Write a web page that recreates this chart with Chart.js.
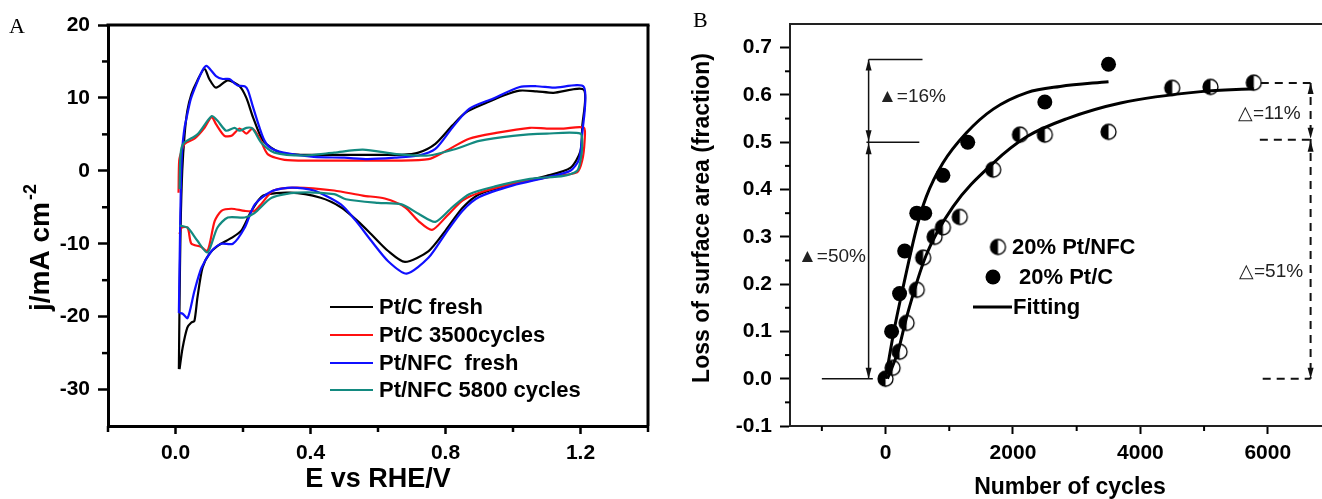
<!DOCTYPE html>
<html>
<head>
<meta charset="utf-8">
<script src="https://cdn.jsdelivr.net/npm/chart.js@4.4.1/dist/chart.umd.min.js"></script>
<style>
  html, body { margin: 0; padding: 0; background: #fff; width: 1322px; height: 499px; overflow: hidden; }
  #boxA { position: absolute; left: 0; top: 0; width: 665px; height: 499px; }
  #boxB { position: absolute; left: 680px; top: 0; width: 660px; height: 499px; }
</style>
</head>
<body>
<div id="boxA"><canvas id="cvChart"></canvas></div>
<div id="boxB"><canvas id="lossChart"></canvas></div>
<script>
// ---- panel A: cyclic voltammograms, points are [E vs RHE (V), j (mA cm-2)]
const ptcFreshAnodic = [[0.01,-27.2],[0.012,-18],[0.015,-8],[0.02,0],[0.027,5],[0.035,8.2],[0.047,10.5],[0.065,12.4],[0.086,14.0],[0.1,12.6],[0.12,11.4],[0.155,12.4],[0.19,11.6],[0.21,10.0],[0.23,7.3],[0.26,4.1],[0.31,2.5],[0.37,2.2],[0.45,2.2],[0.55,2.2],[0.67,2.2],[0.72,2.5],[0.77,3.7],[0.82,6.2],[0.86,8.0],[0.92,9.3],[0.97,10.3],[1.02,11.0],[1.07,10.9],[1.12,10.7],[1.21,11.1]];
const ptcFreshCathodic = [[1.205,6],[1.2,2.7],[1.17,0.4],[1.1,-0.7],[1.0,-1.8],[0.9,-3.2],[0.85,-5.1],[0.8,-8.2],[0.75,-11.0],[0.68,-12.5],[0.63,-11.0],[0.58,-8.7],[0.54,-6.9],[0.49,-5.0],[0.43,-3.7],[0.34,-3.0],[0.26,-3.4],[0.225,-5.5],[0.195,-8.2],[0.166,-9.2],[0.125,-10.3],[0.10,-11.4],[0.08,-13.3],[0.065,-17.4],[0.056,-20.6],[0.047,-20.8],[0.035,-21.5],[0.021,-24.3],[0.012,-27.2]];
const ptc3500Anodic = [[0.009,-3.0],[0.011,1.4],[0.018,2.7],[0.027,3.7],[0.056,4.4],[0.086,5.9],[0.107,7.4],[0.12,6.4],[0.145,4.8],[0.166,4.8],[0.19,5.8],[0.21,5.1],[0.228,5.8],[0.25,4.4],[0.273,2.3],[0.323,1.5],[0.41,1.4],[0.55,1.4],[0.65,1.4],[0.75,1.6],[0.8,2.7],[0.87,4.4],[0.95,5.2],[1.05,5.9],[1.1,5.8],[1.15,5.8],[1.21,5.9]];
const ptc3500Cathodic = [[1.212,4],[1.205,1.4],[1.19,-0.2],[1.1,-0.9],[1.0,-1.8],[0.9,-3.0],[0.85,-4.1],[0.8,-6.4],[0.76,-8.1],[0.72,-6.9],[0.68,-5.0],[0.62,-3.8],[0.555,-3.4],[0.47,-2.7],[0.36,-2.3],[0.29,-2.7],[0.255,-4.5],[0.234,-5.5],[0.205,-5.5],[0.166,-5.2],[0.136,-5.5],[0.116,-6.9],[0.095,-11.0],[0.075,-10.4],[0.047,-10.0],[0.036,-7.8],[0.018,-7.8],[0.012,-8.7]];
const ptnfcFreshAnodic = [[0.01,-19.5],[0.013,-10],[0.016,-2],[0.02,3],[0.027,6],[0.033,7.3],[0.045,9.8],[0.062,11.9],[0.08,13.8],[0.092,14.4],[0.105,13.8],[0.12,13.0],[0.14,12.6],[0.16,12.6],[0.175,12.0],[0.184,11.7],[0.205,11.6],[0.215,11.0],[0.23,8.7],[0.26,4.5],[0.28,3.2],[0.32,2.5],[0.41,1.9],[0.5,1.8],[0.57,1.6],[0.65,1.8],[0.72,2.1],[0.77,3.0],[0.82,5.9],[0.87,8.5],[0.94,9.9],[1.02,11.5],[1.07,11.6],[1.12,11.4],[1.21,11.5]];
const ptnfcFreshCathodic = [[1.205,5],[1.195,1.5],[1.17,0],[1.1,-0.9],[1.0,-2.0],[0.9,-3.6],[0.85,-5.5],[0.8,-8.6],[0.75,-11.9],[0.685,-14.1],[0.63,-12.4],[0.58,-9.6],[0.535,-6.9],[0.49,-4.6],[0.41,-2.7],[0.345,-2.3],[0.285,-2.8],[0.235,-4.6],[0.205,-7.8],[0.17,-10.0],[0.135,-10.0],[0.107,-11.0],[0.077,-13.3],[0.056,-16.5],[0.036,-20.2],[0.021,-19.6],[0.012,-19.5]];
const ptnfc5800Anodic = [[0.012,-2.5],[0.014,1.5],[0.018,3.2],[0.027,3.9],[0.065,5.0],[0.107,7.5],[0.124,6.9],[0.15,5.5],[0.175,5.9],[0.19,5.5],[0.21,5.9],[0.228,5.8],[0.255,3.8],[0.293,2.5],[0.38,2.1],[0.47,2.5],[0.555,2.9],[0.655,2.3],[0.75,2.1],[0.83,3.0],[0.9,4.1],[1.0,4.8],[1.1,5.1],[1.2,5.1]];
const ptnfc5800Cathodic = [[1.205,3.5],[1.2,1.4],[1.19,0],[1.15,-0.7],[1.05,-1.1],[0.95,-2.1],[0.87,-3.2],[0.82,-5.0],[0.77,-7.0],[0.72,-5.9],[0.67,-4.6],[0.6,-4.4],[0.505,-3.9],[0.47,-3.2],[0.36,-3.0],[0.285,-3.7],[0.234,-5.8],[0.205,-6.4],[0.155,-6.4],[0.124,-7.8],[0.095,-11.2],[0.065,-9.6],[0.036,-7.8],[0.012,-7.5]];

const cvLabels = ['Pt/C fresh', 'Pt/C 3500cycles', 'Pt/NFC  fresh', 'Pt/NFC 5800 cycles'];
const cvColors = ['#000000', '#ff1010', '#1010ff', '#138a80'];
const cvTicksE = [0, 0.4, 0.8, 1.2];
const cvMinorE = [-0.2, 0.2, 0.6, 1.0, 1.4];
const cvTicksJ = [-30, -20, -10, 0, 10, 20];
const cvMinorJ = [-25, -15, -5, 5, 15];

// ---- panel B: loss of surface area vs number of cycles
const ptnfcCycles = [0, 110, 220, 330, 490, 590, 770, 900, 1165, 1690, 2110, 2500, 3500, 4500, 5100, 5780];
const ptnfcLoss = [0, 0.023, 0.057, 0.118, 0.188, 0.256, 0.30, 0.32, 0.342, 0.442, 0.516, 0.516, 0.522, 0.615, 0.617, 0.626];
const ptcCycles = [0, 95, 220, 300, 490, 615, 900, 1290, 2500, 3500];
const ptcLoss = [0, 0.10, 0.18, 0.27, 0.35, 0.35, 0.43, 0.50, 0.585, 0.665];
const ptcFitCycles = [0, 130, 270, 490, 640, 900, 1270, 1690, 2220, 2740, 3500];
const ptcFitLoss = [0, 0.10, 0.19, 0.32, 0.385, 0.456, 0.52, 0.57, 0.605, 0.618, 0.628];
const ptnfcFitCycles = [30, 200, 330, 640, 1060, 1690, 2220, 2850, 3690, 4950, 5780];
const ptnfcFitLoss = [0, 0.06, 0.13, 0.262, 0.364, 0.456, 0.512, 0.55, 0.583, 0.607, 0.613];

const lossLabels = ['20% Pt/NFC', '20% Pt/C', 'Fitting'];
const lossTicksX = [0, 2000, 4000, 6000];
const lossMinorX = [-1000, 1000, 3000, 5000];
const lossTicksY = [-0.1, 0, 0.1, 0.2, 0.3, 0.4, 0.5, 0.6, 0.7];
const lossMinorY = [-0.05, 0.05, 0.15, 0.25, 0.35, 0.45, 0.55, 0.65];

const FONT = '"Liberation Sans", Arial, Helvetica, sans-serif';

function halfDisc(r) {
  const c = document.createElement('canvas');
  const s = Math.ceil(r * 2 + 4);
  c.width = s; c.height = s;
  const g = c.getContext('2d');
  const m = s / 2;
  g.beginPath(); g.arc(m, m, r, 0, Math.PI * 2); g.fillStyle = '#fff'; g.fill();
  g.beginPath(); g.arc(m, m, r, Math.PI / 2, Math.PI * 1.5); g.closePath(); g.fillStyle = '#000'; g.fill();
  g.beginPath(); g.arc(m, m, r, 0, Math.PI * 2); g.lineWidth = 1.3; g.strokeStyle = '#000'; g.stroke();
  return c;
}
const halfMarker = halfDisc(7.5);

function toPoints(pairs) { return pairs.map(p => ({ x: p[0], y: p[1] })); }
function zipPoints(xs, ys) { return xs.map((x, i) => ({ x: x, y: ys[i] })); }

function minorTicks(ctx, chart, xs, ys, len, width) {
  const a = chart.chartArea, sx = chart.scales.x, sy = chart.scales.y;
  ctx.save();
  ctx.strokeStyle = '#000'; ctx.lineWidth = width;
  xs.forEach(v => {
    const px = sx.getPixelForValue(v);
    ctx.beginPath(); ctx.moveTo(px, a.bottom); ctx.lineTo(px, a.bottom + len); ctx.stroke();
  });
  ys.forEach(v => {
    const py = sy.getPixelForValue(v);
    ctx.beginPath(); ctx.moveTo(a.left, py); ctx.lineTo(a.left - len, py); ctx.stroke();
  });
  ctx.restore();
}

function arrowHead(ctx, x, y, dir, w, h) {
  ctx.beginPath();
  ctx.moveTo(x, y);
  ctx.lineTo(x - w / 2, y - dir * h);
  ctx.lineTo(x + w / 2, y - dir * h);
  ctx.closePath();
  ctx.fill();
}

function line(ctx, x1, y1, x2, y2) {
  ctx.beginPath(); ctx.moveTo(x1, y1); ctx.lineTo(x2, y2); ctx.stroke();
}

const frameA = {
  id: 'frameA',
  afterDraw(chart) {
    const ctx = chart.ctx, a = chart.chartArea;
    ctx.save();
    ctx.strokeStyle = '#000'; ctx.lineWidth = 3;
    line(ctx, a.left - 1.5, a.top, a.right + 1.5, a.top);
    line(ctx, a.right, a.top, a.right, a.bottom);
    ctx.restore();
    minorTicks(ctx, chart, cvMinorE, cvMinorJ, 6, 2.5);

    ctx.save();
    ctx.fillStyle = '#000';
    ctx.font = '22px "Liberation Serif", "Times New Roman", serif';
    ctx.textBaseline = 'middle';
    ctx.fillText('A', 9, 27);

    ctx.font = 'bold 27px ' + FONT;
    ctx.textAlign = 'center';
    ctx.fillText('E vs RHE/V', (a.left + a.right) / 2, 480);

    ctx.translate(49, 311);
    ctx.rotate(-Math.PI / 2);
    ctx.textAlign = 'left';
    ctx.textBaseline = 'alphabetic';
    ctx.font = 'bold 28px ' + FONT;
    ctx.fillText('j/mA cm', 0, 0);
    const w = ctx.measureText('j/mA cm').width;
    ctx.font = 'bold 18px ' + FONT;
    ctx.fillText('-2', w + 2, -13);
    ctx.restore();

    // legend
    ctx.save();
    ctx.font = 'bold 22px ' + FONT;
    ctx.textBaseline = 'middle';
    ctx.fillStyle = '#000';
    const rows = [307, 335, 363, 390];
    cvLabels.forEach((lab, i) => {
      ctx.strokeStyle = cvColors[i]; ctx.lineWidth = 2;
      line(ctx, 330, rows[i], 373, rows[i]);
      ctx.fillText(lab, 379, rows[i] + 1);
    });
    ctx.restore();
  }
};

const frameB = {
  id: 'frameB',
  afterDraw(chart) {
    const ctx = chart.ctx, a = chart.chartArea, sx = chart.scales.x, sy = chart.scales.y;
    ctx.save();
    ctx.strokeStyle = '#222'; ctx.lineWidth = 2;
    line(ctx, a.left - 1, a.top, a.right, a.top);
    ctx.restore();
    minorTicks(ctx, chart, lossMinorX, lossMinorY, 5, 2);

    const X = v => sx.getPixelForValue(v), Y = v => sy.getPixelForValue(v);
    ctx.save();
    ctx.fillStyle = '#000';
    ctx.font = '22px "Liberation Serif", "Times New Roman", serif';
    ctx.textBaseline = 'middle';
    ctx.fillText('B', 13, 21);

    ctx.font = 'bold 23px ' + FONT;
    ctx.textAlign = 'center';
    ctx.fillText('Number of cycles', 390, 488);
    ctx.save();
    ctx.translate(23, 218);
    ctx.rotate(-Math.PI / 2);
    ctx.fillText('Loss of surface area (fraction)', 0, 0);
    ctx.restore();

    // solid brackets (Pt/C)
    ctx.strokeStyle = '#111'; ctx.fillStyle = '#111'; ctx.lineWidth = 1.5;
    const xs = X(-266);
    line(ctx, xs, Y(0.675), xs, Y(0));
    line(ctx, xs, Y(0.675), X(580), Y(0.675));
    line(ctx, X(-300), Y(0.5), X(530), Y(0.5));
    line(ctx, X(-1000), Y(0), X(-200), Y(0));
    arrowHead(ctx, xs, Y(0.675), -1, 6, 11);
    arrowHead(ctx, xs, Y(0.5) - 1, 1, 6, 11);
    arrowHead(ctx, xs, Y(0.5) + 1, -1, 6, 11);
    arrowHead(ctx, xs, Y(0), 1, 6, 11);

    // dashed brackets (Pt/NFC)
    const xd = X(6672);
    ctx.lineWidth = 2;
    ctx.setLineDash([8, 6]);
    line(ctx, xd, Y(0.625), xd, Y(0));
    line(ctx, X(5890), Y(0.625), xd, Y(0.625));
    line(ctx, X(5875), Y(0.505), xd, Y(0.505));
    line(ctx, X(5920), Y(0), xd, Y(0));
    ctx.setLineDash([]);
    arrowHead(ctx, xd, Y(0.625), -1, 6, 11);
    arrowHead(ctx, xd, Y(0.505) - 1, 1, 6, 11);
    arrowHead(ctx, xd, Y(0.505) + 1, -1, 6, 11);
    arrowHead(ctx, xd, Y(0), 1, 6, 11);

    ctx.font = '19px ' + FONT;
    ctx.textAlign = 'left';
    ctx.fillStyle = '#222';
    ctx.fillText('\u25B2=16%', 198, 97);
    ctx.fillText('\u25B2=50%', 118, 257);
    ctx.fillText('\u25B3=11%', 558, 114);
    ctx.fillText('\u25B3=51%', 559, 272);

    // legend
    ctx.fillStyle = '#000';
    ctx.font = 'bold 22px ' + FONT;
    ctx.drawImage(halfMarker, 318 - halfMarker.width / 2, 247 - halfMarker.height / 2);
    ctx.fillText(lossLabels[0], 332, 248);
    ctx.beginPath(); ctx.arc(313, 277, 7.5, 0, Math.PI * 2); ctx.fill();
    ctx.fillText(lossLabels[1], 339, 278);
    ctx.strokeStyle = '#000'; ctx.lineWidth = 3;
    line(ctx, 293, 307, 332, 307);
    ctx.fillText(lossLabels[2], 333, 308);
    ctx.restore();
  }
};

const tickFont = { family: FONT, size: 21, weight: 'bold' };

new Chart(document.getElementById('cvChart'), {
  type: 'scatter',
  data: {
    datasets: [
      [ptcFreshAnodic, ptcFreshCathodic],
      [ptc3500Anodic, ptc3500Cathodic],
      [ptnfcFreshAnodic, ptnfcFreshCathodic],
      [ptnfc5800Anodic, ptnfc5800Cathodic]
    ].map((branches, i) => ({
      label: cvLabels[i],
      data: toPoints(branches[0].concat(branches[1])),
      showLine: true,
      borderColor: cvColors[i],
      borderWidth: 2.2,
      pointRadius: 0,
      tension: 0.25,
      fill: false,
      order: 4 - i
    }))
  },
  options: {
    responsive: true,
    maintainAspectRatio: false,
    animation: false,
    layout: { padding: { left: 0, top: 25, right: 17, bottom: 0 } },
    plugins: { legend: { display: false }, tooltip: { enabled: false } },
    scales: {
      x: {
        type: 'linear', min: -0.2, max: 1.4,
        afterBuildTicks: s => { s.ticks = cvTicksE.map(v => ({ value: v })); },
        afterFit: s => { s.height = 73; },
        ticks: { callback: v => v.toFixed(1), font: tickFont, color: '#000', padding: 7, maxRotation: 0, autoSkip: false },
        grid: { drawOnChartArea: false, tickLength: 8, tickWidth: 2.5, tickColor: '#000' },
        border: { color: '#000', width: 3 }
      },
      y: {
        type: 'linear', min: -35, max: 20,
        afterBuildTicks: s => { s.ticks = cvTicksJ.map(v => ({ value: v })); },
        afterFit: s => { s.width = 108; },
        ticks: { callback: v => String(v), font: tickFont, color: '#000', padding: 8, autoSkip: false },
        grid: { drawOnChartArea: false, tickLength: 10, tickWidth: 2.5, tickColor: '#000' },
        border: { color: '#000', width: 3 }
      }
    }
  },
  plugins: [frameA]
});

new Chart(document.getElementById('lossChart'), {
  type: 'scatter',
  data: {
    datasets: [
      { label: lossLabels[0], data: zipPoints(ptnfcCycles, ptnfcLoss), pointStyle: halfMarker, pointRadius: 7.5, order: 1 },
      { label: lossLabels[1], data: zipPoints(ptcCycles, ptcLoss), pointStyle: 'circle', pointRadius: 7.5, backgroundColor: '#000', borderWidth: 0, order: 2 },
      { label: 'Pt/C fit', data: zipPoints(ptcFitCycles, ptcFitLoss), showLine: true, pointRadius: 0, borderColor: '#000', borderWidth: 3, cubicInterpolationMode: 'monotone', order: 0 },
      { label: 'Pt/NFC fit', data: zipPoints(ptnfcFitCycles, ptnfcFitLoss), showLine: true, pointRadius: 0, borderColor: '#000', borderWidth: 3, cubicInterpolationMode: 'monotone', order: 0 }
    ]
  },
  options: {
    responsive: true,
    maintainAspectRatio: false,
    animation: false,
    layout: { padding: { left: 0, top: 24, right: 6, bottom: 0 } },
    plugins: { legend: { display: false }, tooltip: { enabled: false } },
    scales: {
      x: {
        type: 'linear', min: -1500, max: 7000,
        afterBuildTicks: s => { s.ticks = lossTicksX.map(v => ({ value: v })); },
        afterFit: s => { s.height = 73; },
        ticks: { callback: v => String(v), font: tickFont, color: '#000', padding: 7, maxRotation: 0, autoSkip: false },
        grid: { drawOnChartArea: false, tickLength: 8, tickWidth: 2, tickColor: '#000' },
        border: { color: '#222', width: 2 }
      },
      y: {
        type: 'linear', min: -0.1, max: 0.75,
        afterBuildTicks: s => { s.ticks = lossTicksY.map(v => ({ value: v })); },
        afterFit: s => { s.width = 110; },
        ticks: { callback: v => v.toFixed(1), font: tickFont, color: '#000', padding: 8, autoSkip: false },
        grid: { drawOnChartArea: false, tickLength: 10, tickWidth: 2, tickColor: '#000' },
        border: { color: '#222', width: 2 }
      }
    }
  },
  plugins: [frameB]
});
</script>
</body>
</html>
